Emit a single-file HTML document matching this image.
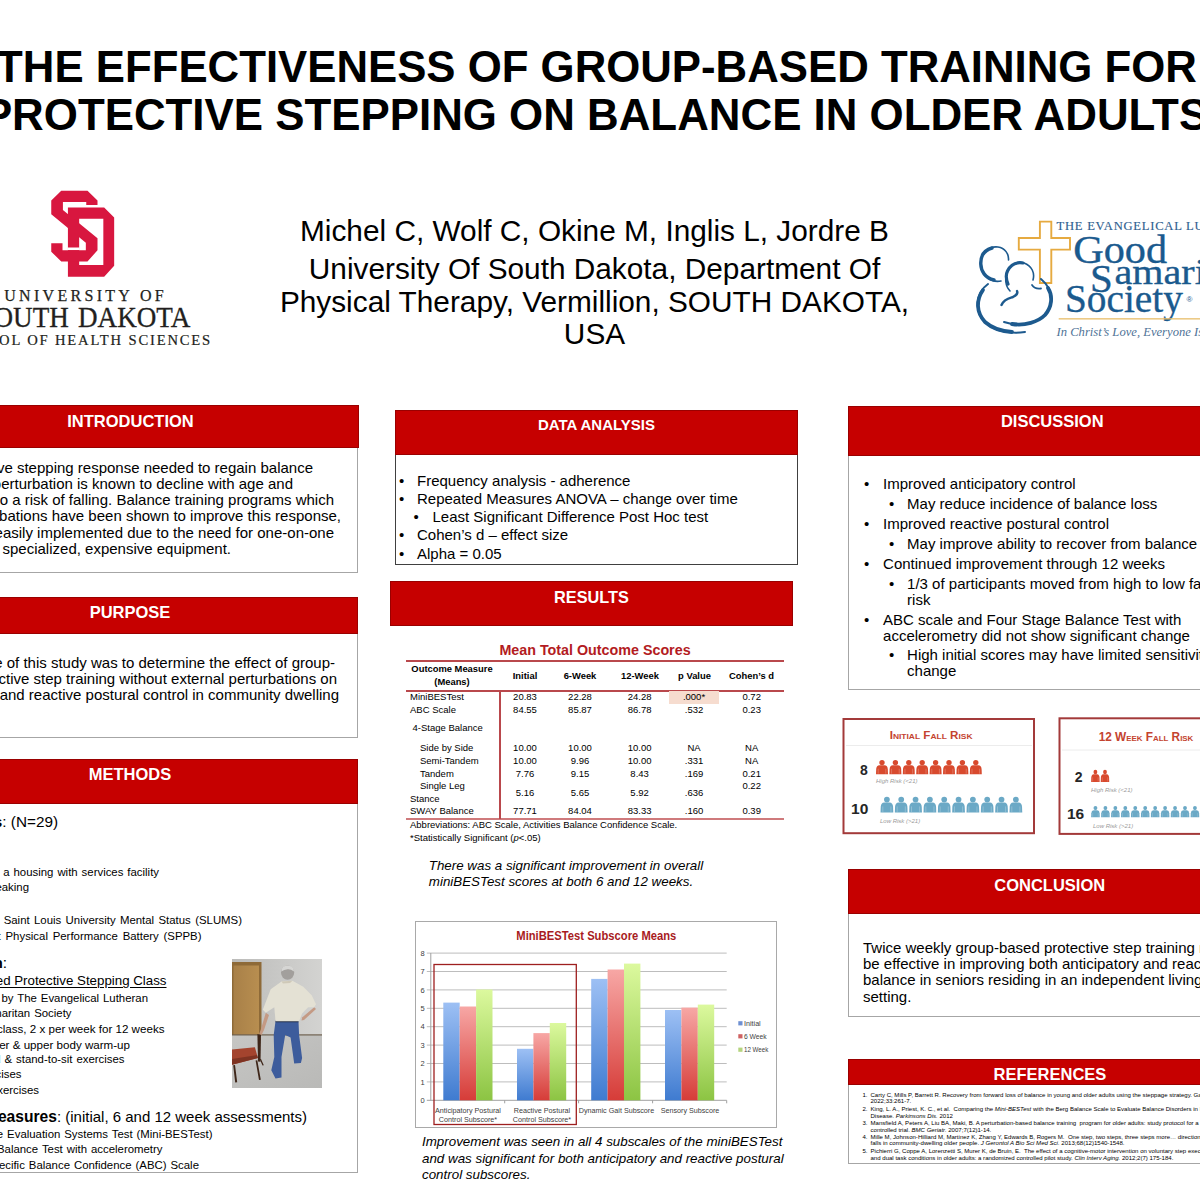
<!DOCTYPE html>
<html><head><meta charset="utf-8">
<style>
html,body{margin:0;padding:0;background:#fff;}
body{width:1200px;height:1200px;position:relative;overflow:hidden;font-family:"Liberation Sans",sans-serif;color:#000;}
.a{position:absolute;white-space:nowrap;}
.hdr{position:absolute;background:#c60000;box-shadow:inset 0 0 0 1px #9a0000;color:#fff;font-weight:bold;text-align:center;}
.box{position:absolute;border:1px solid #a6a6a6;box-sizing:border-box;background:#fff;}
.r{text-align:right;}
.t15{font-size:15px;line-height:16px;}
.tc{position:absolute;white-space:nowrap;text-align:center;font-size:9.5px;line-height:12px;}
</style></head><body>

<!-- TITLE -->
<div class="a" style="left:-399px;width:1991px;text-align:center;top:43px;font-weight:bold;font-size:43.75px;line-height:47.5px;">THE EFFECTIVENESS OF GROUP-BASED TRAINING FOR</div>
<div class="a" style="left:-400px;width:1991px;text-align:center;top:90.5px;font-weight:bold;font-size:43.85px;line-height:47.5px;">PROTECTIVE STEPPING ON BALANCE IN OLDER ADULTS</div>

<!-- AUTHORS -->
<div class="a" style="left:94.5px;width:1000px;text-align:center;top:213.5px;font-size:29.8px;line-height:34px;">Michel C, Wolf C, Okine M, Inglis L, Jordre B</div>
<div class="a" style="left:94.5px;width:1000px;text-align:center;top:253px;font-size:29.8px;line-height:32.5px;">University Of South Dakota, Department Of<br>Physical Therapy, Vermillion, SOUTH DAKOTA,<br>USA</div>

<!-- USD LOGO -->
<svg class="a" style="left:40px;top:185px" width="100" height="100" viewBox="0 0 1200 1200">
 <g transform="scale(1)">
 <path fill="#d8173f" fill-rule="evenodd" d="M335 270 L770 270 L890 390 L890 970 L770 1100 L335 1100 Z M470 405 L760 405 L760 960 L470 960 Z"/>
 <rect x="330" y="750" width="145" height="32" fill="#fff"/>
 <path fill="#d8173f" d="M135 185 L255 70 L570 70 L690 185 L690 240 L555 240 L555 205 L275 205 L275 300 L690 640 L690 783 L570 918 L255 918 L135 800 L135 700 L270 700 L270 782 L550 782 L550 692 L135 350 Z"/>
 </g>
</svg>
<div class="a r" style="right:1033px;top:287px;font-family:'Liberation Serif',serif;font-size:16px;line-height:18px;letter-spacing:3.3px;color:#231f20;-webkit-text-stroke:0.25px #231f20;">UNIVERSITY OF</div>
<div class="a" style="left:-28px;width:96.8px;text-align:right;top:301px;font-family:'Liberation Serif',serif;font-size:29px;line-height:32px;color:#231f20;-webkit-text-stroke:0.3px #231f20;transform:scaleX(0.935);transform-origin:right;">SOUTH</div>
<div class="a" style="left:78.4px;top:301px;font-family:'Liberation Serif',serif;font-size:29px;line-height:32px;color:#231f20;-webkit-text-stroke:0.3px #231f20;transform:scaleX(0.935);transform-origin:left;">DAKOTA</div>
<div class="a r" style="right:988px;top:331px;font-family:'Liberation Serif',serif;font-size:14.6px;line-height:18px;letter-spacing:1.83px;color:#231f20;-webkit-text-stroke:0.2px #231f20;">SCHOOL OF HEALTH SCIENCES</div>

<!-- GOOD SAMARITAN LOGO -->
<svg class="a" style="left:970px;top:210px" width="230" height="130" viewBox="0 0 230 130">
 <g fill="none" stroke="#e6aa40" stroke-width="1.9">
  <path d="M69.9 11.6 H81.3 V28 H100 V39.6 H81.3 V73 H69.9 V39.6 H48.8 V28 H69.9 Z"/>
 </g>
 <g fill="none" stroke="#1d5a8e" stroke-linecap="round">
  <path d="M31 71 C22 73 11 66 10.5 54 C10 42 20 36 28 37 C35 38 39 44 38.5 50" stroke-width="1.6"/>
  <path d="M24 70 C15 68 11 61 10.8 54 C10.5 45 15 40 22 38" stroke-width="3.4"/>
  <path d="M40 81 C35 76 35 68 37 63 C40 54 48 51 54 53 C62 56 65 63 63 70" stroke-width="1.6"/>
  <path d="M38 74 C35.5 68 36 64 37.5 61 C41 54 47 52 53 53" stroke-width="3.2"/>
  <path d="M62 75 C64 78 68 79 71 78.5" stroke-width="1.8"/>
  <path d="M31.5 95 C34 89 40 88 43 87 C47 85 48 83 47 81" stroke-width="2.4"/>
  <path d="M18 74 C4 84 5 104 16 113 C26 122 42 124 55 122" stroke-width="2"/>
  <path d="M13 80 C6 90 6 102 15 112 C23 119 33 121.5 42 122" stroke-width="3.8"/>
  <path d="M34 112 C48 117 66 114 75 105 C84 96 84 80 71 69" stroke-width="2"/>
  <path d="M42 114 C55 116 68 112 75 105 C82 97 83 86 78 78" stroke-width="3.8"/>
 </g>
 <text x="86.5" y="20" font-family="Liberation Serif" font-size="12.6" fill="#2f6090" letter-spacing="0.75" stroke="#2f6090" stroke-width="0.15">THE EVANGELICAL LUTHERAN</text>
 <g fill="#1a5a8e" stroke="#1a5a8e" stroke-width="0.35" font-family="Liberation Serif">
 <text transform="translate(103.2 52.5) scale(1.067 1)" font-size="39.6">Good</text>
 <text transform="translate(120 81.6) scale(1.0 1)" font-size="41">S</text>
 <text transform="translate(144.5 74) scale(1.13 1)" font-size="35.5">amaritan</text>
 <text transform="translate(95 101.9) scale(0.99 1)" font-size="39.7">Society</text>
 </g>
 <text x="216.5" y="91.5" font-family="Liberation Sans" font-size="8" fill="#1a5a8e">®</text>
 <rect x="88.7" y="108.2" width="141.3" height="1.3" fill="#e8bd6a"/>
 <text transform="translate(86.5 126.3) scale(0.957 1)" font-family="Liberation Serif" font-style="italic" font-size="13.2" fill="#4f7397">In Christ’s Love, Everyone Is Someone</text>
</svg>

<!-- LEFT COLUMN -->
<div class="box" style="left:-98px;top:447px;width:456px;height:126px;"></div>
<div class="hdr" style="left:-98px;top:405px;width:457px;height:43px;font-size:16.5px;line-height:32.4px;">INTRODUCTION</div>
<div class="a r t15" style="right:887px;top:459.5px;line-height:16.15px;">The protective stepping response needed to regain balance<br></div>
<div class="a r t15" style="right:907px;top:476px;line-height:16.15px;">after a perturbation is known to decline with age and</div>
<div class="a r t15" style="right:866px;top:492px;line-height:16.15px;">contributes to a risk of falling. Balance training programs which</div>
<div class="a r t15" style="right:859px;top:508px;line-height:16.15px;">utilize perturbations have been shown to improve this response,</div>
<div class="a r t15" style="right:866px;top:524.5px;line-height:16.15px;">but are not easily implemented due to the need for one-on-one</div>
<div class="a r t15" style="right:969px;top:540.5px;line-height:16.15px;">supervision and specialized, expensive equipment.</div>

<div class="box" style="left:-98px;top:633px;width:456px;height:105px;"></div>
<div class="hdr" style="left:-98px;top:597px;width:456px;height:37px;font-size:16.5px;line-height:30px;">PURPOSE</div>
<div class="a r t15" style="right:865px;top:655px;">The purpose of this study was to determine the effect of group-</div>
<div class="a r t15" style="right:863px;top:671px;">based protective step training without external perturbations on</div>
<div class="a r t15" style="right:861px;top:686.5px;">anticipatory and reactive postural control in community dwelling</div>

<div class="box" style="left:-98px;top:803px;width:456px;height:370px;"></div>
<div class="hdr" style="left:-98px;top:759px;width:456px;height:45px;font-size:16.5px;line-height:31px;">METHODS</div>
<div class="a r" style="right:1142px;top:812.7px;font-size:15.3px;line-height:17px;"><b>Participants</b>: (N=29)</div>
<div class="a r" style="right:1041px;top:864.5px;font-size:11.4px;line-height:15px;word-spacing:0.8px;">Residents of a housing with services facility</div>
<div class="a r" style="right:1171px;top:880px;font-size:11.4px;line-height:15px;word-spacing:0.8px;">English speaking</div>
<div class="a r" style="right:958px;top:912.5px;font-size:11.4px;line-height:15px;word-spacing:1.2px;">Scored ≥ 20 on the Saint Louis University Mental Status (SLUMS)</div>
<div class="a r" style="right:998.5px;top:928.5px;font-size:11.4px;line-height:15px;word-spacing:1.6px;">Scored ≥ 6 on the Short Physical Performance Battery (SPPB)</div>
<div class="a r" style="right:1193px;top:954px;font-size:15.3px;line-height:17px;"><b>Intervention</b>:</div>
<div class="a r" style="right:1033.5px;top:973px;font-size:13.3px;line-height:16px;text-decoration:underline;text-underline-offset:1.5px;">Group-Based Protective Stepping Class</div>
<div class="a r" style="right:1052px;top:990.5px;font-size:11.4px;line-height:15px;word-spacing:0.8px;">Taught by The Evangelical Lutheran</div>
<div class="a r" style="right:1128.5px;top:1006px;font-size:11.4px;line-height:15px;word-spacing:0.8px;">Good Samaritan Society</div>
<div class="a r" style="right:1035.5px;top:1021px;font-size:11.6px;line-height:15px;">60 minute class, 2 x per week for 12 weeks</div>
<div class="a r" style="right:1070px;top:1036.5px;font-size:11.6px;line-height:15px;">Lower & upper body warm-up</div>
<div class="a r" style="right:1075.5px;top:1052px;font-size:11.4px;line-height:15px;word-spacing:0.8px;">Sit-to-stand & stand-to-sit exercises</div>
<div class="a r" style="right:1178.5px;top:1067px;font-size:11.4px;line-height:15px;word-spacing:0.8px;">Stepping exercises</div>
<div class="a r" style="right:1161px;top:1082.5px;font-size:11.4px;line-height:15px;word-spacing:0.8px;">Balance exercises</div>
<div class="a r" style="right:893px;top:1108px;font-size:15px;line-height:17px;"><b style="font-size:15.6px">Outcome Measures</b>: (initial, 6 and 12 week assessments)</div>
<div class="a r" style="right:987.5px;top:1126.5px;font-size:11.4px;line-height:15px;word-spacing:0.8px;">Mini-Balance Evaluation Systems Test (Mini-BESTest)</div>
<div class="a r" style="right:1037.5px;top:1142px;font-size:11.4px;line-height:15px;word-spacing:0.8px;">Four Stage Balance Test with accelerometry</div>
<div class="a r" style="right:1001px;top:1157.5px;font-size:11.4px;line-height:15px;word-spacing:0.8px;">Activities-specific Balance Confidence (ABC) Scale</div>

<!-- PHOTO -->
<svg class="a" style="left:232px;top:958.5px" width="90" height="129.5" viewBox="0 0 90 129.5">
 <defs>
  <linearGradient id="wall" x1="0" y1="0" x2="1" y2="0"><stop offset="0" stop-color="#bcbcba"/><stop offset="1" stop-color="#d3d3d1"/></linearGradient>
  <linearGradient id="floor" x1="0" y1="0" x2="1" y2="1"><stop offset="0" stop-color="#c6c6c4"/><stop offset="1" stop-color="#b9b9b7"/></linearGradient>
  <linearGradient id="door" x1="0" y1="0" x2="1" y2="0"><stop offset="0" stop-color="#a88048"/><stop offset="1" stop-color="#b88e50"/></linearGradient>
 </defs>
 <rect width="90" height="76" fill="url(#wall)"/>
 <rect y="76" width="90" height="53.5" fill="url(#floor)"/>
 <rect x="0" y="3" width="29.5" height="73" fill="#8e6a38"/>
 <rect x="1.5" y="6.5" width="25.5" height="69.5" fill="url(#door)"/>
 <rect x="0" y="75.3" width="90" height="1.2" fill="#6f6250"/>
 <path d="M33.8 53.8 L29 70 L27.2 74.9 L29.5 76 L32 71 L37 56 Z" fill="#c49a84"/>
 <path d="M82.2 48.3 L70.1 58.4 L69.5 61.5 L72 61 L84 50 Z" fill="#c49a84"/>
 <path d="M43.5 62.2 L66.5 62.2 L67.1 76.1 L70.1 99.1 L68.9 103.9 L62.2 104.5 L58.6 78.5 L53.2 76.1 L49.5 97.9 L49.5 118.4 L43.5 119.6 L39.3 111.2 L42.3 97.9 L41.7 76.1 Z" fill="#3d5c9c"/>
 <rect x="43.5" y="61.5" width="23" height="1.8" fill="#2a3550"/>
 <path d="M30.8 50.7 L38.7 30.2 L49.5 22.4 L60.4 21.7 L71.3 27.8 L79.7 36.2 L84 45.3 L82.2 48.3 L76.1 48.3 L70.1 54.4 L67.1 62.2 L43.5 62.2 L42.3 48.3 L33.8 53.8 Z" fill="#e4e1d4"/>
 <path d="M49.5 22.4 L60.4 21.7 L58 24 L51 24.5 Z" fill="#cfc9b8"/>
 <ellipse cx="55.6" cy="13.6" rx="6.6" ry="7.2" fill="#a29f9c"/>
 <path d="M49.3 12.5 Q49.5 6.5 55.6 6.4 Q61.8 6.5 62 12.5 Q58.5 9.8 55.6 10.2 Q52 10.4 49.3 12.5 Z" fill="#d6d6d4"/>
 <path d="M0 90.6 L22.9 88.2 L25.9 99.1 L0 105.7 Z" fill="#a4442e"/>
 <path d="M0 100 L25 96 L25.9 99.1 L0 105.7 Z" fill="#7e3322"/>
 <path d="M25.4 74.9 L29 76.1 L28.5 102.7 L26 102.5 Z" fill="#3e2619"/>
 <path d="M1.2 106.3 L3 106 L5.2 123.2 L3.2 123.5 Z M23.6 101.5 L25.3 101.2 L28.8 120.8 L27 121 Z M27.8 100.3 L29 100 L31.8 106.3 L30.5 106.6 Z" fill="#3e2619"/>
</svg>

<!-- MIDDLE COLUMN: DATA ANALYSIS -->
<div class="box" style="left:395px;top:454px;width:403px;height:111px;border-color:#404040;"></div>
<div class="hdr" style="left:395px;top:410px;width:403px;height:45px;font-size:15px;line-height:30px;">DATA ANALYSIS</div>
<div class="a" style="left:0;top:0;font-size:15px;line-height:18px;">
<span class="a" style="left:399px;top:471.5px">•</span><span class="a" style="left:417px;top:471.5px">Frequency analysis - adherence</span>
<span class="a" style="left:399px;top:489.5px">•</span><span class="a" style="left:417px;top:489.5px">Repeated Measures ANOVA – change over time</span>
<span class="a" style="left:413.5px;top:507.5px">•</span><span class="a" style="left:432.5px;top:507.5px">Least Significant Difference Post Hoc test</span>
<span class="a" style="left:399px;top:526px">•</span><span class="a" style="left:417px;top:526px">Cohen’s d – effect size</span>
<span class="a" style="left:399px;top:544.5px">•</span><span class="a" style="left:417px;top:544.5px">Alpha = 0.05</span>
</div>

<!-- RESULTS -->
<div class="hdr" style="left:390px;top:581px;width:403px;height:45px;font-size:16.3px;line-height:33.4px;">RESULTS</div>
<div class="a" style="left:406px;width:378px;text-align:center;top:642px;font-size:14.3px;line-height:16px;font-weight:bold;color:#b31b22;">Mean Total Outcome Scores</div>
<div class="a" style="left:406px;top:660px;width:378px;height:2px;background:#b9484c;"></div>
<div class="a" style="left:406px;top:690px;width:378px;height:2px;background:#b9484c;"></div>
<div class="a" style="left:406px;top:818px;width:378px;height:2px;background:#cf7a7c;"></div>
<div class="a" style="left:499px;top:691px;width:2px;height:128px;background:#b9484c;"></div>
<div class="a" style="left:669px;top:691px;width:50px;height:12.5px;background:#f6dccf;"></div>
<div style="position:absolute;left:0;top:0;font-weight:bold;">
<div class="tc" style="left:402px;width:100px;top:663px;line-height:12.5px;font-size:9.4px;">Outcome Measure<br>(Means)</div>
<div class="tc" style="left:495px;width:60px;top:669.5px;font-size:9.4px;">Initial</div>
<div class="tc" style="left:550px;width:60px;top:669.5px;font-size:9.4px;">6-Week</div>
<div class="tc" style="left:610px;width:60px;top:669.5px;font-size:9.4px;">12-Week</div>
<div class="tc" style="left:664.5px;width:60px;top:669.5px;font-size:9.4px;">p Value</div>
<div class="tc" style="left:711.5px;width:80px;top:669.5px;font-size:9.4px;">Cohen’s d</div>
</div>
<div style="position:absolute;left:0;top:0;font-size:9.5px;line-height:12px;">
<div class="a" style="left:410px;top:690.5px;font-size:9.5px;line-height:12px;">MiniBESTest</div>
<div class="a" style="left:410px;top:703.5px;font-size:9.5px;line-height:12px;">ABC Scale</div>
<div class="a" style="left:412.5px;top:722px;font-size:9.5px;line-height:12px;">4-Stage Balance</div>
<div class="a" style="left:420px;top:741.5px;font-size:9.5px;line-height:12px;">Side by Side</div>
<div class="a" style="left:420px;top:754.5px;font-size:9.5px;line-height:12px;">Semi-Tandem</div>
<div class="a" style="left:420px;top:767.5px;font-size:9.5px;line-height:12px;">Tandem</div>
<div class="a" style="left:420px;top:780px;font-size:9.5px;line-height:12px;">Single Leg</div>
<div class="a" style="left:410px;top:792.5px;font-size:9.5px;line-height:12px;">Stance</div>
<div class="a" style="left:410px;top:805px;font-size:9.5px;line-height:12px;">SWAY Balance</div>
<div class="a" style="left:410px;top:819px;font-size:9.5px;line-height:12px;">Abbreviations: ABC Scale, Activities Balance Confidence Scale.</div>
<div class="a" style="left:410px;top:831.5px;font-size:9.5px;line-height:12px;">*Statistically Significant (<i>p</i>&lt;.05)</div>
<div class="tc" style="left:495.0px;width:60px;top:690.5px;">20.83</div>
<div class="tc" style="left:550.0px;width:60px;top:690.5px;">22.28</div>
<div class="tc" style="left:609.6px;width:60px;top:690.5px;">24.28</div>
<div class="tc" style="left:664.0px;width:60px;top:690.5px;">.000*</div>
<div class="tc" style="left:721.7px;width:60px;top:690.5px;">0.72</div>
<div class="tc" style="left:495.0px;width:60px;top:703.5px;">84.55</div>
<div class="tc" style="left:550.0px;width:60px;top:703.5px;">85.87</div>
<div class="tc" style="left:609.6px;width:60px;top:703.5px;">86.78</div>
<div class="tc" style="left:664.0px;width:60px;top:703.5px;">.532</div>
<div class="tc" style="left:721.7px;width:60px;top:703.5px;">0.23</div>
<div class="tc" style="left:495.0px;width:60px;top:741.5px;">10.00</div>
<div class="tc" style="left:550.0px;width:60px;top:741.5px;">10.00</div>
<div class="tc" style="left:609.6px;width:60px;top:741.5px;">10.00</div>
<div class="tc" style="left:664.0px;width:60px;top:741.5px;">NA</div>
<div class="tc" style="left:721.7px;width:60px;top:741.5px;">NA</div>
<div class="tc" style="left:495.0px;width:60px;top:754.5px;">10.00</div>
<div class="tc" style="left:550.0px;width:60px;top:754.5px;">9.96</div>
<div class="tc" style="left:609.6px;width:60px;top:754.5px;">10.00</div>
<div class="tc" style="left:664.0px;width:60px;top:754.5px;">.331</div>
<div class="tc" style="left:721.7px;width:60px;top:754.5px;">NA</div>
<div class="tc" style="left:495.0px;width:60px;top:767.5px;">7.76</div>
<div class="tc" style="left:550.0px;width:60px;top:767.5px;">9.15</div>
<div class="tc" style="left:609.6px;width:60px;top:767.5px;">8.43</div>
<div class="tc" style="left:664.0px;width:60px;top:767.5px;">.169</div>
<div class="tc" style="left:721.7px;width:60px;top:767.5px;">0.21</div>
<div class="tc" style="left:495.0px;width:60px;top:786.5px;">5.16</div>
<div class="tc" style="left:550.0px;width:60px;top:786.5px;">5.65</div>
<div class="tc" style="left:609.6px;width:60px;top:786.5px;">5.92</div>
<div class="tc" style="left:664.0px;width:60px;top:786.5px;">.636</div>
<div class="tc" style="left:495.0px;width:60px;top:805.0px;">77.71</div>
<div class="tc" style="left:550.0px;width:60px;top:805.0px;">84.04</div>
<div class="tc" style="left:609.6px;width:60px;top:805.0px;">83.33</div>
<div class="tc" style="left:664.0px;width:60px;top:805.0px;">.160</div>
<div class="tc" style="left:721.7px;width:60px;top:805.0px;">0.39</div>
<div class="tc" style="left:721.7px;width:60px;top:780px;">0.22</div>
</div>
<div class="a" style="left:428.8px;top:857.5px;font-size:13.35px;line-height:16.3px;font-style:italic;">There was a significant improvement in overall<br>miniBESTest scores at both 6 and 12 weeks.</div>

<svg class="a" style="left:0;top:0" width="1200" height="1200" viewBox="0 0 1200 1200">
<defs>
<linearGradient id="gb" x1="0" y1="0" x2="0" y2="1"><stop offset="0" stop-color="#9dc0f4"/><stop offset="1" stop-color="#3f7bd0"/></linearGradient>
<linearGradient id="gr" x1="0" y1="0" x2="0" y2="1"><stop offset="0" stop-color="#f7a7a5"/><stop offset="1" stop-color="#d63c38"/></linearGradient>
<linearGradient id="gg" x1="0" y1="0" x2="0" y2="1"><stop offset="0" stop-color="#dcf99e"/><stop offset="1" stop-color="#8cc443"/></linearGradient>
</defs>
<rect x="415.5" y="921.5" width="361" height="206" fill="#fff" stroke="#a9a9a9" stroke-width="1"/>
<line x1="426.8" y1="1100.3" x2="726.7" y2="1100.3" stroke="#a0a0a0" stroke-width="1"/>
<text x="422.6" y="1103.0" font-family="Liberation Sans" font-size="7.5" fill="#404040" text-anchor="middle">0</text>
<line x1="426.8" y1="1081.9" x2="726.7" y2="1081.9" stroke="#bdbdbd" stroke-width="1"/>
<text x="422.6" y="1084.6" font-family="Liberation Sans" font-size="7.5" fill="#404040" text-anchor="middle">1</text>
<line x1="426.8" y1="1063.5" x2="726.7" y2="1063.5" stroke="#bdbdbd" stroke-width="1"/>
<text x="422.6" y="1066.2" font-family="Liberation Sans" font-size="7.5" fill="#404040" text-anchor="middle">2</text>
<line x1="426.8" y1="1045.1" x2="726.7" y2="1045.1" stroke="#bdbdbd" stroke-width="1"/>
<text x="422.6" y="1047.8" font-family="Liberation Sans" font-size="7.5" fill="#404040" text-anchor="middle">3</text>
<line x1="426.8" y1="1026.7" x2="726.7" y2="1026.7" stroke="#bdbdbd" stroke-width="1"/>
<text x="422.6" y="1029.4" font-family="Liberation Sans" font-size="7.5" fill="#404040" text-anchor="middle">4</text>
<line x1="426.8" y1="1008.3" x2="726.7" y2="1008.3" stroke="#bdbdbd" stroke-width="1"/>
<text x="422.6" y="1011.0" font-family="Liberation Sans" font-size="7.5" fill="#404040" text-anchor="middle">5</text>
<line x1="426.8" y1="989.9" x2="726.7" y2="989.9" stroke="#bdbdbd" stroke-width="1"/>
<text x="422.6" y="992.6" font-family="Liberation Sans" font-size="7.5" fill="#404040" text-anchor="middle">6</text>
<line x1="426.8" y1="971.5" x2="726.7" y2="971.5" stroke="#bdbdbd" stroke-width="1"/>
<text x="422.6" y="974.2" font-family="Liberation Sans" font-size="7.5" fill="#404040" text-anchor="middle">7</text>
<line x1="426.8" y1="953.1" x2="726.7" y2="953.1" stroke="#bdbdbd" stroke-width="1"/>
<text x="422.6" y="955.8" font-family="Liberation Sans" font-size="7.5" fill="#404040" text-anchor="middle">8</text>
<line x1="430.8" y1="953" x2="430.8" y2="1100.3" stroke="#a0a0a0" stroke-width="1"/>
<line x1="504.7" y1="1100.3" x2="504.7" y2="1103.3" stroke="#a0a0a0" stroke-width="1"/>
<line x1="578.6" y1="1100.3" x2="578.6" y2="1103.3" stroke="#a0a0a0" stroke-width="1"/>
<line x1="652.6" y1="1100.3" x2="652.6" y2="1103.3" stroke="#a0a0a0" stroke-width="1"/>
<line x1="726.7" y1="1100.3" x2="726.7" y2="1103.3" stroke="#a0a0a0" stroke-width="1"/>
<rect x="443.3" y="1002.6" width="16.4" height="97.7" fill="url(#gb)"/>
<rect x="459.7" y="1006.5" width="16.4" height="93.8" fill="url(#gr)"/>
<rect x="476.1" y="989.5" width="16.4" height="110.8" fill="url(#gg)"/>
<rect x="517.0" y="1048.8" width="16.4" height="51.5" fill="url(#gb)"/>
<rect x="533.4" y="1033.1" width="16.4" height="67.2" fill="url(#gr)"/>
<rect x="549.8" y="1023.0" width="16.4" height="77.3" fill="url(#gg)"/>
<rect x="591.2" y="978.9" width="16.4" height="121.4" fill="url(#gb)"/>
<rect x="607.6" y="969.5" width="16.4" height="130.8" fill="url(#gr)"/>
<rect x="624.0" y="963.6" width="16.4" height="136.7" fill="url(#gg)"/>
<rect x="665.0" y="1010.0" width="16.4" height="90.3" fill="url(#gb)"/>
<rect x="681.4" y="1007.6" width="16.4" height="92.7" fill="url(#gr)"/>
<rect x="697.8" y="1004.6" width="16.4" height="95.7" fill="url(#gg)"/>
<rect x="434" y="964.5" width="142.3" height="160" fill="none" stroke="#9e1f1f" stroke-width="1.3"/>
<text x="596.3" y="940.3" font-family="Liberation Sans" font-weight="bold" font-size="12.6" fill="#a81b1e" text-anchor="middle" textLength="160" lengthAdjust="spacingAndGlyphs">MiniBESTest Subscore Means</text>
<text x="468.0" y="1112.6" font-family="Liberation Sans" font-size="7.2" fill="#404040" text-anchor="middle">Anticipatory Postural</text>
<text x="468.0" y="1121.8" font-family="Liberation Sans" font-size="7.2" fill="#404040" text-anchor="middle">Control Subscore*</text>
<text x="542.0" y="1112.6" font-family="Liberation Sans" font-size="7.2" fill="#404040" text-anchor="middle">Reactive Postural</text>
<text x="542.0" y="1121.8" font-family="Liberation Sans" font-size="7.2" fill="#404040" text-anchor="middle">Control Subscore*</text>
<text x="616.5" y="1112.6" font-family="Liberation Sans" font-size="7.2" fill="#404040" text-anchor="middle">Dynamic Gait Subscore</text>
<text x="690.0" y="1112.6" font-family="Liberation Sans" font-size="7.2" fill="#404040" text-anchor="middle">Sensory Subscore</text>
<rect x="738.3" y="1021.2" width="4.2" height="4.2" fill="#6e90d2"/>
<text x="744" y="1025.9" font-family="Liberation Sans" font-size="7.2" fill="#404040" textLength="16.7" lengthAdjust="spacingAndGlyphs">Initial</text>
<rect x="738.3" y="1034.2" width="4.2" height="4.2" fill="#cf6262"/>
<text x="744" y="1038.9" font-family="Liberation Sans" font-size="7.2" fill="#404040" textLength="22.7" lengthAdjust="spacingAndGlyphs">6 Week</text>
<rect x="738.3" y="1047.6" width="4.2" height="4.2" fill="#b5d47e"/>
<text x="744" y="1052.3" font-family="Liberation Sans" font-size="7.2" fill="#404040" textLength="24.3" lengthAdjust="spacingAndGlyphs">12 Week</text>
</svg>
<div class="a" style="left:422px;top:1134px;font-size:13.37px;line-height:16px;font-style:italic;">Improvement was seen in all 4 subscales of the miniBESTest</div>
<div class="a" style="left:422px;top:1150.7px;font-size:13.37px;line-height:16px;font-style:italic;">and was significant for both anticipatory and reactive postural</div>
<div class="a" style="left:422px;top:1166.8px;font-size:13.37px;line-height:16px;font-style:italic;">control subscores.</div>
<!-- RIGHT COLUMN -->
<div class="box" style="left:848px;top:454px;width:420px;height:236px;"></div>
<div class="hdr" style="left:847.5px;top:405.5px;width:409.5px;height:50px;font-size:16.5px;line-height:31px;">DISCUSSION</div>
<div style="position:absolute;left:0;top:0;font-size:15px;line-height:16px;">
<span class="a" style="left:864px;top:476px">•</span><span class="a" style="left:883.1px;top:476px">Improved anticipatory control</span>
<span class="a" style="left:889px;top:496px">•</span><span class="a" style="left:907.1px;top:496px">May reduce incidence of balance loss</span>
<span class="a" style="left:864px;top:516px">•</span><span class="a" style="left:883.1px;top:516px">Improved reactive postural control</span>
<span class="a" style="left:889px;top:535.5px">•</span><span class="a" style="left:907.1px;top:535.5px">May improve ability to recover from balance loss</span>
<span class="a" style="left:864px;top:555.5px">•</span><span class="a" style="left:883.1px;top:555.5px">Continued improvement through 12 weeks</span>
<span class="a" style="left:889px;top:575.5px">•</span><span class="a" style="left:907.1px;top:575.5px">1/3 of participants moved from high to low fall</span>
<span class="a" style="left:907.1px;top:591.5px">risk</span>
<span class="a" style="left:864px;top:611.5px">•</span><span class="a" style="left:883.1px;top:611.5px">ABC scale and Four Stage Balance Test with</span>
<span class="a" style="left:883.1px;top:627.5px">accelerometry did not show significant change</span>
<span class="a" style="left:889px;top:647px">•</span><span class="a" style="left:907.1px;top:647px">High initial scores may have limited sensitivity to</span>
<span class="a" style="left:907.1px;top:663px">change</span>
</div>
<svg class="a" style="left:0;top:0" width="1200" height="1200" viewBox="0 0 1200 1200">
<defs><g id="person"><circle cx="6" cy="2.3" r="2.6"/><path d="M0.2 14 L0.4 8.8 Q0.6 5.2 3.6 5 L8.4 5 Q11.4 5.2 11.6 8.8 L11.8 14 Z"/><path d="M2.3 8.5 L2.3 13.5 M9.7 8.5 L9.7 13.5" stroke="#fff" stroke-opacity="0.45" stroke-width="0.5"/></g></defs>
<rect x="843.5" y="719" width="190.5" height="114.2" fill="#fff" stroke="#a33a3a" stroke-width="2"/>
<line x1="846" y1="745.5" x2="1032" y2="745.5" stroke="#ececec" stroke-width="1"/>
<text x="931.1" y="738.6" font-family="Liberation Sans" font-weight="bold" font-size="11" fill="#c4432f" text-anchor="middle" style="font-variant:small-caps" textLength="82.8" lengthAdjust="spacingAndGlyphs">Initial Fall Risk</text>
<text x="864" y="775.3" font-family="Liberation Sans" font-weight="bold" font-size="14" fill="#262626" text-anchor="middle">8</text>
<text x="859.7" y="813.6" font-family="Liberation Sans" font-weight="bold" font-size="15.5" fill="#262626" text-anchor="middle">10</text>
<use href="#person" x="0" y="0" transform="translate(875.80 760.30) scale(1.033 0.993)" fill="#d84a2e"/><use href="#person" x="0" y="0" transform="translate(889.20 760.30) scale(1.033 0.993)" fill="#d84a2e"/><use href="#person" x="0" y="0" transform="translate(902.60 760.30) scale(1.033 0.993)" fill="#d84a2e"/><use href="#person" x="0" y="0" transform="translate(916.00 760.30) scale(1.033 0.993)" fill="#d84a2e"/><use href="#person" x="0" y="0" transform="translate(929.40 760.30) scale(1.033 0.993)" fill="#d84a2e"/><use href="#person" x="0" y="0" transform="translate(942.80 760.30) scale(1.033 0.993)" fill="#d84a2e"/><use href="#person" x="0" y="0" transform="translate(956.20 760.30) scale(1.033 0.993)" fill="#d84a2e"/><use href="#person" x="0" y="0" transform="translate(969.60 760.30) scale(1.033 0.993)" fill="#d84a2e"/>
<use href="#person" x="0" y="0" transform="translate(880.30 797.00) scale(1.100 1.107)" fill="#6ba9c6"/><use href="#person" x="0" y="0" transform="translate(894.63 797.00) scale(1.100 1.107)" fill="#6ba9c6"/><use href="#person" x="0" y="0" transform="translate(908.96 797.00) scale(1.100 1.107)" fill="#6ba9c6"/><use href="#person" x="0" y="0" transform="translate(923.29 797.00) scale(1.100 1.107)" fill="#6ba9c6"/><use href="#person" x="0" y="0" transform="translate(937.62 797.00) scale(1.100 1.107)" fill="#6ba9c6"/><use href="#person" x="0" y="0" transform="translate(951.95 797.00) scale(1.100 1.107)" fill="#6ba9c6"/><use href="#person" x="0" y="0" transform="translate(966.28 797.00) scale(1.100 1.107)" fill="#6ba9c6"/><use href="#person" x="0" y="0" transform="translate(980.61 797.00) scale(1.100 1.107)" fill="#6ba9c6"/><use href="#person" x="0" y="0" transform="translate(994.94 797.00) scale(1.100 1.107)" fill="#6ba9c6"/><use href="#person" x="0" y="0" transform="translate(1009.27 797.00) scale(1.100 1.107)" fill="#6ba9c6"/>
<text x="876" y="783" font-family="Liberation Sans" font-style="italic" font-size="6" fill="#9a9a9a">High Risk (&lt;21)</text>
<text x="880" y="823" font-family="Liberation Sans" font-style="italic" font-size="6" fill="#9a9a9a">Low Risk (&gt;21)</text>
<rect x="1059.5" y="718.3" width="192" height="115.6" fill="#fff" stroke="#a33a3a" stroke-width="2"/>
<line x1="1062" y1="750" x2="1250" y2="750" stroke="#ececec" stroke-width="1"/>
<text x="1146" y="740.8" font-family="Liberation Sans" font-weight="bold" font-size="12" fill="#c4432f" text-anchor="middle" style="font-variant:small-caps" textLength="94.6" lengthAdjust="spacingAndGlyphs">12 Week Fall Risk</text>
<text x="1078.7" y="782" font-family="Liberation Sans" font-weight="bold" font-size="14" fill="#262626" text-anchor="middle">2</text>
<text x="1075.5" y="818.6" font-family="Liberation Sans" font-weight="bold" font-size="15.5" fill="#262626" text-anchor="middle">16</text>
<use href="#person" x="0" y="0" transform="translate(1091.00 770.00) scale(0.733 0.857)" fill="#d84a2e"/><use href="#person" x="0" y="0" transform="translate(1100.60 770.00) scale(0.733 0.857)" fill="#d84a2e"/>
<use href="#person" x="0" y="0" transform="translate(1091.00 806.30) scale(0.742 0.786)" fill="#6ba9c6"/><use href="#person" x="0" y="0" transform="translate(1100.95 806.30) scale(0.742 0.786)" fill="#6ba9c6"/><use href="#person" x="0" y="0" transform="translate(1110.90 806.30) scale(0.742 0.786)" fill="#6ba9c6"/><use href="#person" x="0" y="0" transform="translate(1120.85 806.30) scale(0.742 0.786)" fill="#6ba9c6"/><use href="#person" x="0" y="0" transform="translate(1130.80 806.30) scale(0.742 0.786)" fill="#6ba9c6"/><use href="#person" x="0" y="0" transform="translate(1140.75 806.30) scale(0.742 0.786)" fill="#6ba9c6"/><use href="#person" x="0" y="0" transform="translate(1150.70 806.30) scale(0.742 0.786)" fill="#6ba9c6"/><use href="#person" x="0" y="0" transform="translate(1160.65 806.30) scale(0.742 0.786)" fill="#6ba9c6"/><use href="#person" x="0" y="0" transform="translate(1170.60 806.30) scale(0.742 0.786)" fill="#6ba9c6"/><use href="#person" x="0" y="0" transform="translate(1180.55 806.30) scale(0.742 0.786)" fill="#6ba9c6"/><use href="#person" x="0" y="0" transform="translate(1190.50 806.30) scale(0.742 0.786)" fill="#6ba9c6"/><use href="#person" x="0" y="0" transform="translate(1200.45 806.30) scale(0.742 0.786)" fill="#6ba9c6"/><use href="#person" x="0" y="0" transform="translate(1210.40 806.30) scale(0.742 0.786)" fill="#6ba9c6"/><use href="#person" x="0" y="0" transform="translate(1220.35 806.30) scale(0.742 0.786)" fill="#6ba9c6"/><use href="#person" x="0" y="0" transform="translate(1230.30 806.30) scale(0.742 0.786)" fill="#6ba9c6"/><use href="#person" x="0" y="0" transform="translate(1240.25 806.30) scale(0.742 0.786)" fill="#6ba9c6"/>
<text x="1091" y="792" font-family="Liberation Sans" font-style="italic" font-size="6" fill="#9a9a9a">High Risk (&lt;21)</text>
<text x="1093" y="828" font-family="Liberation Sans" font-style="italic" font-size="6" fill="#9a9a9a">Low Risk (&gt;21)</text>
</svg>
<div class="box" style="left:848px;top:913px;width:420px;height:103.5px;"></div>
<div class="hdr" style="left:847.5px;top:869px;width:404.5px;height:45px;font-size:16.5px;line-height:33px;">CONCLUSION</div>
<div class="a" style="left:863px;top:940px;font-size:15px;line-height:16.2px;">Twice weekly group-based protective step training may<br>be effective in improving both anticipatory and reactive<br>balance in seniors residing in an independent living<br>setting.</div>
<div class="box" style="left:848px;top:1084px;width:420px;height:79.5px;"></div>
<div class="hdr" style="left:847.5px;top:1059px;width:405px;height:26px;font-size:16.5px;line-height:30.4px;">REFERENCES</div>
<div style="position:absolute;left:0;top:0;font-size:6.05px;line-height:6.5px;">
<span class="a" style="left:862.5px;top:1091.8px">1.</span><span class="a" style="left:870.5px;top:1091.8px">Carty C, Mills P, Barrett R. Recovery from forward loss of balance in young and older adults using the steppage strategy. Gait Posture.</span>
<span class="a" style="left:870.5px;top:1098.0px">2022;33:261-7.</span>
<span class="a" style="left:862.5px;top:1106.3px">2.</span><span class="a" style="left:870.5px;top:1106.3px">King, L. A., Priest, K. C., et al.&nbsp; Comparing the <i>Mini-BESTest</i> with the Berg Balance Scale to Evaluate Balance Disorders in Parkinson’s</span>
<span class="a" style="left:870.5px;top:1112.6px">Disease. <i>Parkinsons Dis.</i> 2012</span>
<span class="a" style="left:862.5px;top:1120.2px">3.</span><span class="a" style="left:870.5px;top:1120.2px">Mansfield A, Peters A, Liu BA, Maki, B. A perturbation-based balance training&nbsp; program for older adults: study protocol for a randomised</span>
<span class="a" style="left:870.5px;top:1126.5px">controlled trial. <i>BMC Geriatr.</i> 2007;7(12)1-14.</span>
<span class="a" style="left:862.5px;top:1134.0px">4.</span><span class="a" style="left:870.5px;top:1134.0px">Mille M, Johnson-Hilliard M, Martinez K, Zhang Y, Edwards B, Rogers M.&nbsp; One step, two steps, three steps more… directional vulnerability to</span>
<span class="a" style="left:870.5px;top:1140.3px">falls in community-dwelling older people. <i>J Gerontol A Bio Sci Med Sci.</i> 2013;68(12)1540-1548.</span>
<span class="a" style="left:862.5px;top:1148.2px">5.</span><span class="a" style="left:870.5px;top:1148.2px">Pichierri G, Coppe A, Lorenzetti S, Murer K, de Bruin, E.&nbsp; The effect of a cognitive-motor intervention on voluntary step execution under single</span>
<span class="a" style="left:870.5px;top:1154.5px">and dual task conditions in older adults: a randomized controlled pilot study. <i>Clin Interv Aging.</i> 2012;2(7) 175-184.</span>
</div>
</body></html>
